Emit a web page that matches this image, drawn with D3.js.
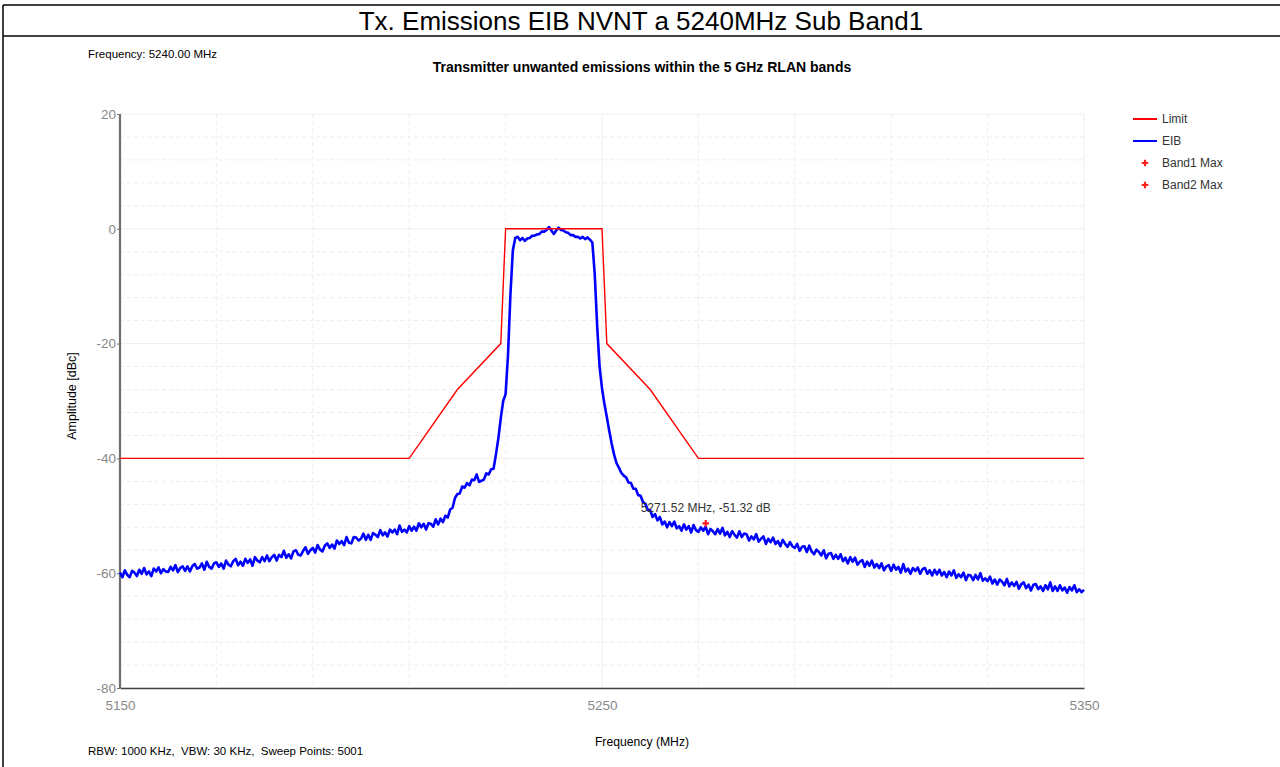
<!DOCTYPE html>
<html><head><meta charset="utf-8">
<script src="https://cdn.jsdelivr.net/npm/d3@7"></script>
<style>
html,body{margin:0;padding:0;background:#fff;}
svg{display:block;font-family:Arial,"Liberation Sans",sans-serif;}
text{white-space:pre;}
</style></head><body>
<svg id="c" width="1280" height="767"></svg>
<script>
// ---------- data ----------
const pageTitle = "Tx. Emissions EIB NVNT a 5240MHz Sub Band1";
const chartTitle = "Transmitter unwanted emissions within the 5 GHz RLAN bands";
const infoTop = "Frequency: 5240.00 MHz";
const infoBottom = "RBW: 1000 KHz,  VBW: 30 KHz,  Sweep Points: 5001";
const xLabel = "Frequency (MHz)";
const yLabel = "Amplitude [dBc]";
const xTicks = [5150, 5250, 5350];
const yTicks = [-80, -60, -40, -20, 0, 20];
const legendNames = ["Limit", "EIB", "Band1 Max", "Band2 Max"];

// limit mask
const limitFreq = [5150, 5210, 5220, 5229, 5230, 5250, 5251, 5260, 5270, 5350];
const limitVal  = [-40, -40, -28, -20, 0, 0, -20, -28, -40, -40];

// EIB trace, sampled every 0.5 MHz from 5150 MHz
const eibStart = 5150, eibStep = 0.5;
const eibVal = [
-59.9,-60.7,-59.5,-60.3,-60.7,-59.6,-59.9,-60.5,-59.4,-60.1,-59.1,-60.2,-59.7,-60.5,-59.2,-59.7,-59.0,-60.0,-59.3,-59.7,
-59.8,-58.9,-59.5,-58.6,-59.8,-59.1,-58.8,-59.6,-58.8,-59.7,-58.8,-58.4,-59.2,-59.0,-58.3,-59.4,-58.0,-58.9,-59.2,-58.3,
-58.1,-58.9,-58.3,-59.2,-57.8,-58.5,-58.8,-57.9,-57.5,-58.6,-58.0,-58.7,-57.5,-58.2,-57.6,-58.7,-57.2,-57.8,-58.1,-57.2,
-57.9,-56.9,-57.9,-57.2,-56.8,-57.8,-56.8,-57.2,-56.1,-57.3,-56.7,-57.4,-56.2,-56.0,-56.8,-56.9,-56.1,-55.5,-56.6,-56.0,
-55.6,-56.4,-55.1,-55.9,-56.2,-55.2,-54.8,-55.6,-55.0,-55.7,-54.3,-54.9,-54.4,-55.1,-53.7,-54.7,-54.8,-53.7,-53.8,-54.3,
-54.0,-53.1,-54.2,-53.3,-54.2,-53.0,-53.3,-53.7,-52.5,-53.4,-52.9,-53.6,-52.4,-52.9,-52.4,-53.2,-51.7,-52.8,-52.4,-52.9,
-51.8,-52.6,-51.9,-52.6,-51.3,-52.0,-51.4,-52.4,-51.3,-51.4,-51.9,-50.6,-51.5,-50.5,-51.1,-50.0,-50.3,-48.9,-48.6,-46.9,
-46.2,-46.1,-44.9,-45.1,-44.3,-44.7,-43.7,-43.8,-42.8,-44.1,-43.9,-43.7,-42.6,-42.8,-41.9,-41.8,-39.3,-36.5,-33.0,-30.0,
-28.8,-22.0,-11.5,-3.8,-1.6,-1.4,-2.0,-1.6,-2.1,-1.7,-1.6,-1.2,-1.2,-1.0,-0.9,-0.5,-0.5,-0.2,0.3,-0.3,
-0.9,-0.3,0.2,-0.2,-0.3,-0.6,-0.7,-1.1,-1.1,-1.4,-1.4,-1.7,-1.4,-1.8,-1.5,-1.9,-2.4,-8.0,-17.0,-24.0,
-27.8,-30.5,-32.8,-35.2,-37.4,-39.3,-40.8,-41.6,-42.5,-43.0,-43.3,-44.2,-44.3,-45.3,-45.3,-46.4,-46.5,-47.6,-47.9,-49.0,
-49.0,-50.2,-49.7,-50.8,-50.2,-51.5,-51.0,-52.0,-51.1,-51.8,-51.0,-52.2,-51.8,-52.6,-51.5,-52.4,-51.8,-52.9,-51.6,-52.5,
-52.8,-52.0,-52.6,-51.9,-53.2,-52.3,-52.7,-53.2,-52.3,-53.1,-52.1,-53.4,-52.8,-53.7,-52.7,-53.3,-53.8,-52.7,-53.7,-53.1,
-53.2,-54.3,-53.6,-54.1,-53.2,-54.5,-54.0,-53.6,-54.9,-54.0,-54.6,-53.8,-54.9,-54.4,-55.3,-54.2,-54.9,-55.4,-54.6,-55.3,
-55.6,-54.9,-56.1,-55.4,-55.3,-56.3,-55.2,-56.2,-56.7,-55.9,-56.3,-56.9,-56.0,-57.4,-56.6,-56.5,-57.5,-56.8,-57.5,-56.7,
-57.9,-57.3,-58.3,-57.2,-58.0,-57.3,-58.5,-58.0,-57.7,-58.9,-58.0,-58.7,-57.8,-59.0,-58.4,-59.1,-58.3,-59.5,-58.8,-58.6,
-59.6,-58.5,-59.4,-58.9,-59.9,-58.4,-59.7,-59.2,-60.1,-59.1,-59.6,-59.0,-60.1,-59.3,-59.1,-60.1,-59.5,-60.4,-59.4,-60.2,
-59.4,-60.4,-59.8,-60.7,-59.7,-60.4,-59.5,-60.8,-60.2,-60.7,-59.9,-61.2,-60.3,-60.4,-61.2,-60.3,-61.1,-60.0,-61.3,-60.9,
-61.4,-60.6,-61.8,-61.1,-62.0,-61.1,-61.5,-62.1,-61.0,-62.3,-61.6,-62.2,-61.5,-62.7,-61.9,-61.6,-62.6,-62.0,-63.0,-62.0,
-61.9,-62.8,-62.3,-63.1,-62.1,-62.8,-61.6,-63.1,-62.3,-63.1,-62.1,-63.0,-62.5,-63.4,-62.4,-63.0,-62.1,-63.3,-62.8,-63.3,
-62.9
];

// band max markers
const band1Max = [{f: 5271.52, v: -51.32}];
const band1Label = "5271.52 MHz, -51.32 dB";

// ---------- drawing ----------
const svg = d3.select("#c");
const W = 1280, H = 767;
const m = {left: 120, right: 1084, top: 114, bottom: 688};
const fmt = d => String(d);

// frame
const frame = svg.append("g").attr("stroke", "#000").attr("stroke-width", 1.5).attr("fill", "none");
frame.append("line").attr("x1", 3).attr("x2", W).attr("y1", 5).attr("y2", 5);
frame.append("line").attr("x1", 3).attr("x2", W).attr("y1", 36).attr("y2", 36);
frame.append("line").attr("x1", 3).attr("x2", 3).attr("y1", 5).attr("y2", H);

svg.append("text").attr("x", 641).attr("y", 21).attr("text-anchor", "middle")
  .attr("dominant-baseline", "central").attr("font-size", 26).attr("fill", "#000").text(pageTitle);

svg.append("text").attr("x", 88).attr("y", 54).attr("dominant-baseline", "central")
  .attr("font-size", 11.5).attr("fill", "#000").text(infoTop);
svg.append("text").attr("x", 642).attr("y", 67).attr("text-anchor", "middle").attr("dominant-baseline", "central")
  .attr("font-size", 14).attr("font-weight", "bold").attr("fill", "#000").text(chartTitle);
svg.append("text").attr("x", 88).attr("y", 751).attr("dominant-baseline", "central")
  .attr("font-size", 11.5).attr("fill", "#000").text(infoBottom);

const x = d3.scaleLinear().domain([5150, 5350]).range([m.left, m.right]);
const y = d3.scaleLinear().domain([-80, 20]).range([m.bottom, m.top]);

// grid
const grid = svg.append("g");
const xMinor = d3.range(5170, 5350, 20).filter(v => !xTicks.includes(v));
const yMinor = d3.range(-76, 20, 4).filter(v => !yTicks.includes(v));
grid.selectAll(".xm").data(xMinor).join("line")
  .attr("x1", d => x(d)).attr("x2", d => x(d)).attr("y1", m.top).attr("y2", m.bottom)
  .attr("stroke", "#ededed").attr("stroke-dasharray", "4,3");
grid.selectAll(".ym").data(yMinor).join("line")
  .attr("x1", m.left).attr("x2", m.right).attr("y1", d => y(d)).attr("y2", d => y(d))
  .attr("stroke", "#ededed").attr("stroke-dasharray", "4,3");
grid.selectAll(".xM").data(xTicks).join("line")
  .attr("x1", d => x(d)).attr("x2", d => x(d)).attr("y1", m.top).attr("y2", m.bottom)
  .attr("stroke", "#efefef");
grid.selectAll(".yM").data(yTicks).join("line")
  .attr("x1", m.left).attr("x2", m.right).attr("y1", d => y(d)).attr("y2", d => y(d))
  .attr("stroke", "#efefef");

// axes
const yAxis = svg.append("g").attr("transform", `translate(${m.left},0)`)
  .call(d3.axisLeft(y).tickValues(yTicks).tickSize(3).tickFormat(fmt));
yAxis.select(".domain").attr("stroke", "#6e6e6e").attr("stroke-width", 2.2).attr("d", `M0,${m.top}V${m.bottom}`);
yAxis.selectAll(".tick line").attr("stroke", "#6e6e6e");
yAxis.selectAll(".tick text").attr("font-size", 13.5).attr("fill", "#888").attr("font-family", "Arial, Liberation Sans, sans-serif").attr("x", -4);

const xAxis = svg.append("g").attr("transform", `translate(0,${m.bottom})`)
  .call(d3.axisBottom(x).tickValues(xTicks).tickSize(0).tickFormat(fmt));
xAxis.select(".domain").attr("stroke", "#444").attr("stroke-width", 1.6);
xAxis.selectAll(".tick text").attr("font-size", 13.5).attr("fill", "#888").attr("font-family", "Arial, Liberation Sans, sans-serif")
  .attr("y", 12).attr("dy", "0.71em");

svg.append("text").attr("transform", "translate(72,396) rotate(-90)").attr("text-anchor", "middle")
  .attr("dominant-baseline", "central").attr("font-size", 12.5).attr("fill", "#000").text(yLabel);
svg.append("text").attr("x", 642).attr("y", 742).attr("text-anchor", "middle").attr("dominant-baseline", "central")
  .attr("font-size", 12.2).attr("fill", "#000").text(xLabel);

// series
const eib = eibVal.map((v, i) => ({f: eibStart + i * eibStep, v}));
const limit = limitFreq.map((f, i) => ({f, v: limitVal[i]}));
const line = d3.line().x(d => x(d.f)).y(d => y(d.v));

svg.append("path").datum(eib).attr("d", line).attr("fill", "none")
  .attr("stroke", "#0000ff").attr("stroke-width", 2.6).attr("stroke-linejoin", "round");
svg.append("path").datum(limit).attr("d", line).attr("fill", "none")
  .attr("stroke", "#ff0000").attr("stroke-width", 1.4);

// marker
const sym = d3.symbol().type(d3.symbolCross).size(24);
svg.selectAll(".mk").data(band1Max).join("path")
  .attr("transform", d => `translate(${x(d.f)},${y(d.v)})`).attr("d", sym).attr("fill", "#ff2020");
svg.selectAll(".mkl").data(band1Max).join("text")
  .attr("x", d => x(d.f)).attr("y", d => y(d.v) - 15).attr("text-anchor", "middle").attr("dominant-baseline", "central")
  .attr("font-size", 12).attr("fill", "#333").text(band1Label);

// legend
const lg = svg.append("g");
const ly = [119, 141, 163, 185];
legendNames.forEach((n, i) => {
  if (i < 2) {
    lg.append("line").attr("x1", 1133).attr("x2", 1157).attr("y1", ly[i]).attr("y2", ly[i])
      .attr("stroke", i === 0 ? "#ff0000" : "#0000ff").attr("stroke-width", 2);
  } else {
    lg.append("path").attr("transform", `translate(1145,${ly[i]})`).attr("d", sym).attr("fill", "#ff2020");
  }
  lg.append("text").attr("x", 1162).attr("y", ly[i]).attr("dominant-baseline", "central")
    .attr("font-size", 12).attr("fill", "#333").text(n);
});
</script>
</body></html>
